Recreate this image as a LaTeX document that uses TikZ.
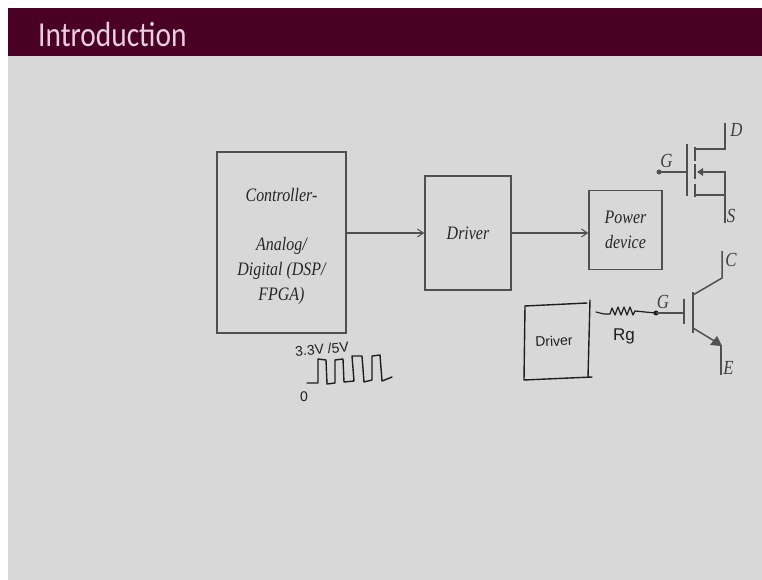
\documentclass[tikz,border=0pt]{standalone}
\usepackage{fontspec}
\setmainfont{Liberation Serif}
\newfontfamily\titlefont[FakeStretch=0.84]{Carlito}
\newfontfamily\condserif[FakeStretch=0.84]{Liberation Serif}
\newfontfamily\handfont{Liberation Sans}
\definecolor{barcol}{HTML}{4A0024}
\definecolor{bgcol}{HTML}{D8D8D8}
\definecolor{titlecol}{HTML}{E8CFE2}
\definecolor{linecol}{HTML}{505050}
\definecolor{inkcol}{HTML}{1E1E1E}
\usetikzlibrary{arrows.meta}
\tikzset{
  blockbox/.style={draw=linecol,line width=1.5pt,inner sep=0pt,align=center,font=\condserif\itshape\fontsize{19}{24.7}\selectfont,text=black!85},
  conn/.style={draw=linecol,line width=1.2pt,-{Straight Barb[length=6pt,width=8pt,line width=1pt]}},
  dev/.style={draw=linecol,line width=1.5pt},
  lab/.style={font=\condserif\itshape\fontsize{20}{22}\selectfont,text=black!75,inner sep=0pt},
  ink/.style={draw=inkcol,line width=1.4pt,line join=round,line cap=round},
  handt/.style={font=\handfont\fontsize{13}{15}\selectfont,text=inkcol,inner sep=0pt}
}
\begin{document}
\begin{tikzpicture}[x=1pt,y=-1pt]
\useasboundingbox (0,0) rectangle (762,580);
\fill[white] (0,0) rectangle (762,580);
\fill[bgcol] (8,56) rectangle (762,580);
\fill[barcol] (8,8) rectangle (762,56);
\node[anchor=west,inner sep=0pt,text=titlecol,font=\titlefont\fontsize{35}{38}\selectfont] (title) at (38,34) {Introduction};
% blocks
\node[blockbox,minimum width=129pt,minimum height=181pt] (ctrl) at (281.5,242.5) {\\[-4pt]Controller-\\[24.7pt]Analog/\\Digital (DSP/\\FPGA)};
\node[blockbox,minimum width=86pt,minimum height=114pt] (drv) at (468,233) {Driver};
\node[blockbox,minimum width=73pt,minimum height=79pt] (pwr) at (625.5,230) {Power\\device};
\draw[conn] (ctrl.east |- drv.west) -- (drv.west);
\draw[conn] (drv.east) -- (pwr.west |- drv.east);
% MOSFET
\coordinate (mg) at (659,172);
\coordinate (md) at (725,123);
\coordinate (ms) at (725,223);
\fill[linecol] (mg) circle (2.5pt);
\node[lab,anchor=center] (mgl) at (666.5,161) {G};
\node[lab,anchor=center] (mdl) at (736.5,130) {D};
\node[lab,anchor=center] (msl) at (731,216) {S};
\draw[dev] (mg) -- (687,172);
\draw[dev] (687,144) -- (687,196);
\draw[dev] (695,147) -- (695,161);
\draw[dev] (695,164) -- (695,179);
\draw[dev] (695,184) -- (695,197);
\draw[dev] (695,149) -- (725,149) -- (md);
\draw[dev] (ms) -- (725,172) -- (700,172);
\draw[dev] (695,195) -- (725,195);
\fill[linecol] (697,172) -- (703,168) -- (703,176) -- cycle;
% IGBT
\coordinate (ig) at (656,313);
\coordinate (ic) at (722,251);
\coordinate (ie) at (721,375);
\fill[inkcol] (ig) circle (2.5pt);
\node[lab,anchor=center] (igl) at (663,302) {G};
\node[lab,anchor=center] (icl) at (731,259.5) {C};
\node[lab,anchor=center] (iel) at (728.5,367.5) {E};
\draw[dev] (ig) -- (684,313);
\draw[dev] (684,299) -- (684,324);
\draw[dev] (693,292) -- (693,333);
\draw[dev] (693,295) -- (722,278) -- (ic);
\draw[dev] (693,328) -- (716,342);
\fill[linecol] (722,346) -- (710,345) -- (717,336) -- cycle;
\draw[dev] (721,345) -- (ie);
% hand-drawn driver
\draw[ink] (525,306) -- (587,303);
\draw[ink] (590,300) -- (588,377);
\draw[ink] (592,377) -- (524,380) -- (525,306);
\node[handt,rotate=3,font=\handfont\fontsize{14}{16}\selectfont] (hd) at (554,341) {Driver};
% resistor
\draw[ink,line width=1.2pt] (596,312) -- (604,314) -- (610,314) -- (612,308) -- (615,315) -- (618,307) -- (621,315) -- (624,307) -- (627,315) -- (630,307) -- (633,315) -- (635,311) -- (645,312) -- (ig);
\node[handt,font=\handfont\fontsize{17}{19}\selectfont] (rg) at (624,336) {Rg};
% waveform
\draw[ink] (307,383) -- (318,383) -- (318,359) -- (326,360) -- (327,384) -- (335,383) -- (335,360) -- (343,359) -- (344,382) -- (354,381) -- (352,356) -- (362,356) -- (364,382) -- (372,380) -- (372,356) -- (380,355) -- (382,381) -- (392,377);
\node[handt,font=\handfont\fontsize{14}{16}\selectfont,rotate=5] (vl) at (322,349) {3.3V /5V};
\node[handt,font=\handfont\fontsize{14}{16}\selectfont] (zl) at (304,397) {0};
\end{tikzpicture}
\end{document}
